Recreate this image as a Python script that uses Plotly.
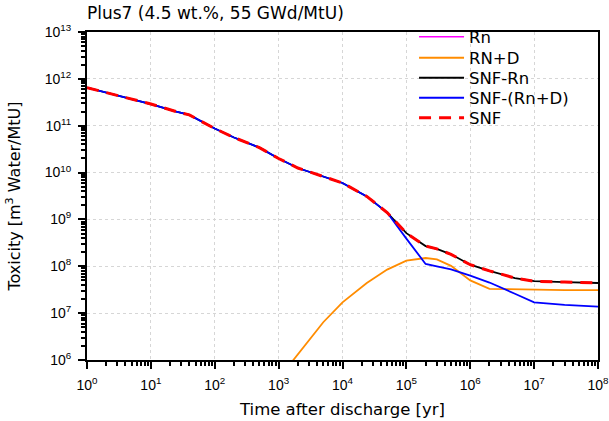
import plotly.graph_objects as go

# Time after discharge [yr]
time_yr = [1, 10, 25, 40, 100, 200, 500, 1000, 2000, 5000, 1e4, 2.4e4, 5e4,
           1e5, 2e5, 3e5, 5e5, 1e6, 2e6, 5e6, 1e7, 3e7, 1e8]

snf = [6.5e11, 2.9e11, 2.0e11, 1.7e11, 8.7e10, 5.6e10, 3.4e10, 2.0e10, 1.25e10,
       8.3e9, 6.0e9, 3.1e9, 1.4e9, 5.1e8, 2.7e8, 2.35e8, 1.8e8, 1.08e8, 8.0e7,
       5.6e7, 4.8e7, 4.6e7, 4.4e7]
snf_minus_rn = [6.5e11, 2.9e11, 2.0e11, 1.7e11, 8.7e10, 5.6e10, 3.4e10, 2.0e10, 1.25e10,
                8.3e9, 6.0e9, 3.1e9, 1.4e9, 5.1e8, 2.7e8, 2.35e8, 1.8e8, 1.08e8, 8.0e7,
                5.6e7, 4.8e7, 4.6e7, 4.4e7]
snf_minus_rnd = [6.5e11, 2.9e11, 2.0e11, 1.7e11, 8.7e10, 5.6e10, 3.4e10, 2.0e10, 1.25e10,
                 8.3e9, 6.0e9, 3.1e9, 1.4e9, 3.9e8, 1.12e8, 9.9e7, 8.6e7, 6.3e7, 4.5e7,
                 2.6e7, 1.7e7, 1.5e7, 1.38e7]

time_rnd = [1000, 2000, 5000, 1e4, 2.4e4, 5e4, 1e5, 2e5, 3e5, 5e5, 1e6, 2e6,
            5e6, 1e7, 3e7, 1e8]
rn_d = [4e5, 1.3e6, 6.4e6, 1.7e7, 4.4e7, 8.5e7, 1.32e8, 1.5e8, 1.4e8, 1.02e8,
        5.0e7, 3.3e7, 3.2e7, 3.15e7, 3.1e7, 3.1e7]

time_rn = [1000, 1e4, 1e5, 1e6, 1e7, 1e8]
rn = [1e2, 2e3, 2e4, 5e4, 6e4, 6e4]

x_tickvals = [1, 10, 100, 1e3, 1e4, 1e5, 1e6, 1e7, 1e8]
x_ticktext = ["10<sup>%d</sup>" % i for i in range(0, 9)]
y_tickvals = [1e6, 1e7, 1e8, 1e9, 1e10, 1e11, 1e12, 1e13]
y_ticktext = ["10<sup>%d</sup>" % i for i in range(6, 14)]

series = [
    ("Rn", time_rn, rn, dict(color="#ff00ff", width=1.5)),
    ("RN+D", time_rnd, rn_d, dict(color="#ff8c00", width=1.8)),
    ("SNF-Rn", time_yr, snf_minus_rn, dict(color="#000000", width=1.8)),
    ("SNF-(Rn+D)", time_yr, snf_minus_rnd, dict(color="#0000ff", width=1.8)),
    ("SNF", time_yr, snf, dict(color="#ff0000", width=3, dash="12px,8px")),
]

wide = "DejaVu Sans, Verdana, sans-serif"
arial = "Liberation Sans, Arial, sans-serif"

H, T, B, L, R = 421, 32, 61, 87, 11
plot_h = H - T - B
legend_rows_px = [37, 58, 78, 98, 118]

fig = go.Figure()
legends = {}
for i, (name, xs, ys, ln) in enumerate(series):
    key = "legend" if i == 0 else "legend%d" % (i + 1)
    fig.add_trace(go.Scatter(x=xs, y=ys, mode="lines", name=name, line=ln,
                             legend=key))
    legends[key] = dict(x=0.64, y=((H - B) - legend_rows_px[i]) / plot_h,
                        xanchor="left", yanchor="middle",
                        bgcolor="rgba(0,0,0,0)", borderwidth=0,
                        font=dict(family=wide, size=16.5), itemwidth=45)

fig.update_layout(
    width=609, height=H,
    margin=dict(l=L, r=R, t=T, b=B, autoexpand=False),
    paper_bgcolor="white", plot_bgcolor="white",
    font=dict(family=wide, size=16, color="#000"),
    title=dict(text="Plus7 (4.5 wt.%, 55 GWd/MtU)", xref="paper", x=0, xanchor="left",
               yref="container", y=1 - 13/421, yanchor="middle",
               font=dict(family=wide, size=17)),
    showlegend=True,
    **legends,
)
common_axis = dict(
    type="log",
    ticks="outside", ticklen=7, tickwidth=1.5, tickcolor="#000",
    ticklabelstandoff=4, ticklabeloverflow="allow",
    showline=True, linecolor="#000", linewidth=2, mirror=True,
    showgrid=True, gridcolor="#d6d6d6", griddash="dot", gridwidth=1,
    minor=dict(ticks="outside", ticklen=4, tickcolor="#000", dtick="D1", showgrid=False),
    tickfont=dict(family=arial, size=14),
    automargin=False, zeroline=False,
)
fig.update_xaxes(
    range=[0, 8], tickvals=x_tickvals, ticktext=x_ticktext,
    title=dict(text="Time after discharge [yr]", font=dict(family=wide, size=16.5),
               standoff=12),
    **common_axis,
)
fig.update_yaxes(
    range=[6, 13], tickvals=y_tickvals, ticktext=y_ticktext,
    title=dict(text="Toxicity [m<sup>3</sup> Water/MtU]", font=dict(family=wide, size=16),
               standoff=20),
    **common_axis,
)
fig.write_html("out.html", config={"displayModeBar": False},
               post_script="document.body.style.margin='0px';")
